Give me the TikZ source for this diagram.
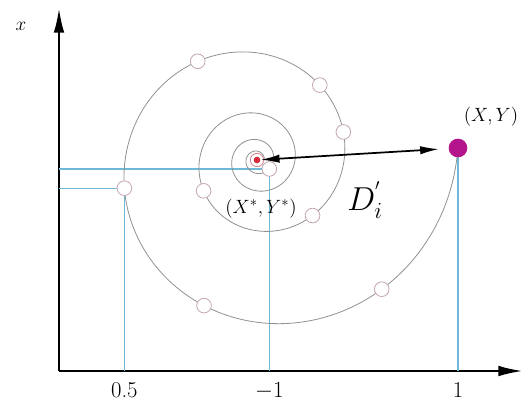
\documentclass[tikz,border=0pt]{standalone}
\usetikzlibrary{arrows.meta}

\definecolor{guideblue}{RGB}{110,185,215}
\definecolor{spiralgrey}{RGB}{145,145,145}
\definecolor{ringpink}{RGB}{195,165,180}
\definecolor{targetmag}{RGB}{180,20,140}
\definecolor{centrered}{RGB}{215,40,60}

\begin{document}
\begin{tikzpicture}[
  x=0.75pt, y=-0.75pt,
  axis/.style={line width=1.8pt, -{Latex[length=6.5mm, width=2.8mm]}},
  guide/.style={guideblue, line width=0.9pt},
  spiral/.style={spiralgrey, line width=0.6pt},
  ring/.style={circle, draw=ringpink, fill=white, line width=0.6pt, minimum size=11pt, inner sep=0pt},
  dist/.style={line width=1.3pt, {Latex[length=5mm, width=2.2mm]}-{Latex[length=5mm, width=2.2mm]}},
  lbl/.style={font=\fontsize{15}{17}\selectfont, inner sep=1pt},
  tick/.style={font=\fontsize{17}{19}\selectfont, anchor=base, inner sep=0pt}
]
\useasboundingbox (0,0) rectangle (531,403);

% axes
\coordinate (O) at (59,371);
\coordinate (ytop) at (59,8);
\coordinate (xend) at (523,371);
\draw[axis] (O) -- (ytop);
\draw[axis] (O) -- (xend);
\node[font=\fontsize{14}{16}\selectfont] (xlbl) at (21,26) {$x$};

% points on the spiral
\foreach \ang [count=\i] in {324,930,1035,1098,1130,1201,1272,1330,1394}
  \coordinate (q\i) at ({257+201*exp(0.0023*(\ang-1443))*cos(\ang)}, {160-201*exp(0.0023*(\ang-1443))*sin(\ang)});
\coordinate (C) at (257,160);
\coordinate (T) at (458,148);

% guides
\draw[guide] (q1) -- (q1 -| O);
\draw[guide] (q7) -- (q7 -| O);
\draw[guide] (q7) -- (q7 |- O);
\draw[guide] (q1) -- (q1 |- O);
\draw[guide] (T) -- (T |- O);

% spiral
\draw[spiral] plot[domain=0:1443, samples=600, smooth]
  ({257+201*exp(0.0023*(\x-1443))*cos(\x)}, {160-201*exp(0.0023*(\x-1443))*sin(\x)});

% nodes
\foreach \i in {1,...,9}
  \node[ring] (p\i) at (q\i) {};
\node[circle, draw=ringpink!80!red, line width=0.6pt, minimum size=10pt, inner sep=0pt] (cring) at (C) {};
\node[circle, fill=centrered, minimum size=5pt, inner sep=0pt] (c) at (C) {};
\node[circle, fill=targetmag, minimum size=14pt, inner sep=0pt] (t) at (T) {};

\draw[dist, shorten >=7pt] (c) -- (t);

% labels
\node[lbl] (tlbl) at (491,117) {$(X,Y)$};
\node[lbl] (clbl) at (261,209) {$(X^{*},Y^{*})$};
\node[font=\fontsize{24}{26}\selectfont] (dlbl) at (365,200) {$D_i^{'}$};
\node[tick] (k1) at (q7 |- 0,397) {0.5};
\node[tick] (k2) at (q1 |- 0,397) {$-1$};
\node[tick] (k3) at (T |- 0,397) {1};
\end{tikzpicture}
\end{document}
